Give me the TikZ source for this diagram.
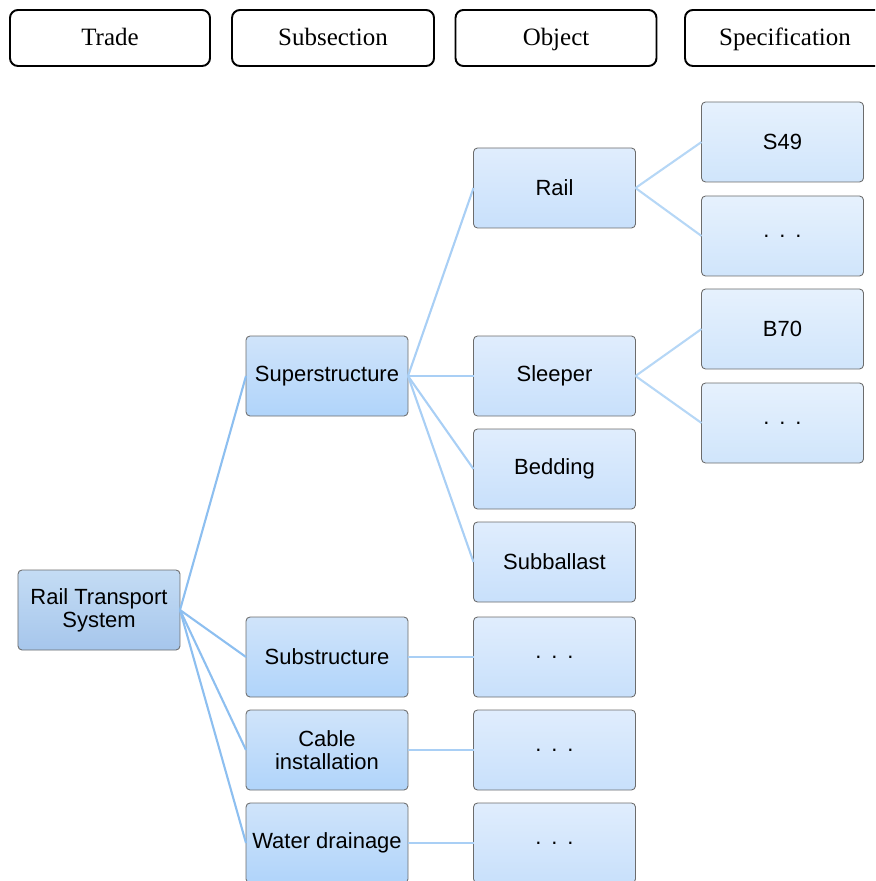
\documentclass[tikz,border=0pt]{standalone}
\usepackage{fontspec}
\setmainfont{Liberation Sans}
\newfontfamily\headfont{Liberation Serif}
\usetikzlibrary{positioning}
\definecolor{linkA}{HTML}{8DBFF0}
\definecolor{linkB}{HTML}{A9CFF5}
\definecolor{linkC}{HTML}{B6D7F6}
\definecolor{tradetop}{RGB}{196,220,244}
\definecolor{tradebot}{RGB}{166,198,236}
\definecolor{subtop}{RGB}{208,228,250}
\definecolor{subbot}{RGB}{176,212,250}
\definecolor{objtop}{RGB}{224,237,253}
\definecolor{objbot}{RGB}{200,224,251}
\definecolor{spectop}{RGB}{230,241,253}
\definecolor{specbot}{RGB}{208,229,251}
\tikzset{head/.style={draw=black, line width=1.1pt, rounded corners=4.5pt, fill=white, minimum width=4cm, minimum height=1.12cm, text height=2.1ex, text depth=0.4ex, font=\headfont\fontsize{14.2}{16}\selectfont}}
\tikzset{tbox/.style={draw=gray!85!black, line width=0.5pt, rounded corners=2.3pt, minimum width=3.24cm, minimum height=1.6cm, inner sep=1pt, outer sep=0pt, align=center, font=\fontsize{12.5}{13}\selectfont}}
\tikzset{lvlA/.style={tbox, top color=tradetop, bottom color=tradebot}}
\tikzset{lvlB/.style={tbox, top color=subtop, bottom color=subbot}}
\tikzset{lvlC/.style={tbox, top color=objtop, bottom color=objbot}}
\tikzset{lvlD/.style={tbox, top color=spectop, bottom color=specbot}}
\tikzset{linkone/.style={draw=linkA, line width=1.2pt}}
\tikzset{linktwo/.style={draw=linkB, line width=1.2pt}}
\tikzset{linkthree/.style={draw=linkC, line width=1.2pt}}
\newcommand{\moredots}{.\hspace{0.45em}.\hspace{0.45em}.}

\begin{document}
\begin{tikzpicture}
    \useasboundingbox (0,0) rectangle (17.5,-17.62);
    \begin{scope}
    \clip (0,0) rectangle (17.5,-17.62);
    % column headings
    \node[head] (trade) at (2.2,-0.76) {Trade};
    \node[head, minimum width=4.04cm] (subsec) at (6.66,-0.76) {Subsection};
    \node[head, minimum width=4.02cm] (object) at (11.12,-0.76) {Object};
    \node[head] (spec) at (15.7,-0.76) {Specification};

    % trade
    \node[lvlA] (rts) at (1.98,-12.2) {Rail Transport\\System};

    % subsections
    \node[lvlB] (super) at (6.54,-7.52) {Superstructure};
    \node[lvlB] (sub) at (6.54,-13.14) {Substructure};
    \node[lvlB, below=0.26 of sub] (cable) {Cable\\installation};
    \node[lvlB, below=0.26 of cable] (water) {Water drainage};

    % objects
    \node[lvlC] (rail) at (11.09,-3.76) {Rail};
    \node[lvlC] (sleeper) at (11.09,-7.52) {Sleeper};
    \node[lvlC, below=0.26 of sleeper] (bedding) {Bedding};
    \node[lvlC, below=0.26 of bedding] (subballast) {Subballast};
    \node[lvlC] (subobj) at (11.09,-13.14) {\moredots};
    \node[lvlC, below=0.26 of subobj] (cableobj) {\moredots};
    \node[lvlC, below=0.26 of cableobj] (waterobj) {\moredots};

    % specifications
    \node[lvlD] (s49) at (15.65,-2.84) {S49};
    \node[lvlD, below=0.28 of s49] (railmore) {\moredots};
    \node[lvlD] (b70) at (15.65,-6.58) {B70};
    \node[lvlD, below=0.28 of b70] (sleepermore) {\moredots};

    % connectors
    \foreach \child in {super, sub, cable, water}
        \draw[linkone] (rts.east) -- (\child.west);
    \foreach \child in {rail, sleeper, bedding, subballast}
        \draw[linktwo] (super.east) -- (\child.west);
    \draw[linktwo] (sub.east) -- (subobj.west);
    \draw[linktwo] (cable.east) -- (cableobj.west);
    \draw[linktwo] (water.east) -- (waterobj.west);
    \foreach \child in {s49, railmore}
        \draw[linkthree] (rail.east) -- (\child.west);
    \foreach \child in {b70, sleepermore}
        \draw[linkthree] (sleeper.east) -- (\child.west);
    \end{scope}
\end{tikzpicture}
\end{document}
